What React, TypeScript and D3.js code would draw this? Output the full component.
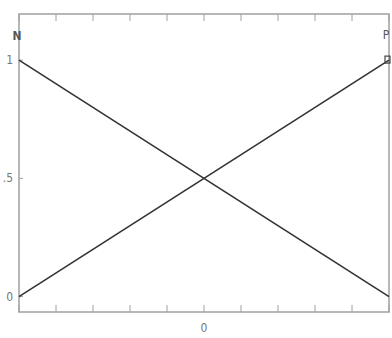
import React from "react";
import * as d3 from "d3";

const xDomain: [number, number] = [-1, 1];
const yDomain: [number, number] = [-0.065, 1.195];
const xTicks = [-1, -0.8, -0.6, -0.4, -0.2, 0, 0.2, 0.4, 0.6, 0.8, 1];
const xTickLabels = [{ v: 0, t: "0" }];
const yTickLabels = [
  { v: 1, t: "1" },
  { v: 0.5, t: ".5" },
  { v: 0, t: "0" },
];
const seriesN = [
  { x: -1, y: 1 },
  { x: 1, y: 0 },
];
const seriesP = [
  { x: -1, y: 0 },
  { x: 1, y: 1 },
];

const W = 392;
const H = 338;
const left = 19;
const right = 389;
const top = 14;
const bottom = 312;

export default function App() {
  const x = d3.scaleLinear().domain(xDomain).range([left, right]);
  const y = d3.scaleLinear().domain(yDomain).range([bottom, top]);
  const line = d3
    .line<{ x: number; y: number }>()
    .x((d) => x(d.x))
    .y((d) => y(d.y));
  const axisColor = "#a0a0a0";
  const textColor = "#777";
  const font = "'DejaVu Sans Condensed', 'DejaVu Sans', sans-serif";
  const pEnd = seriesP[seriesP.length - 1];
  const nStart = seriesN[0];
  return (
    <svg
      width={W}
      height={H}
      style={{ position: "absolute", left: 0, top: 0, background: "#fff" }}
    >
      <rect
        x={left}
        y={top}
        width={right - left}
        height={bottom - top}
        fill="none"
        stroke={axisColor}
        strokeWidth={1.5}
      />
      {xTicks.map((t, i) => (
        <g key={i}>
          <line x1={x(t)} x2={x(t)} y1={bottom} y2={bottom - 7} stroke={axisColor} strokeWidth={1} />
          <line x1={x(t)} x2={x(t)} y1={top} y2={top + 7} stroke={axisColor} strokeWidth={1} />
        </g>
      ))}
      {yTickLabels.map((t, i) => (
        <g key={i}>
          <line x1={left} x2={left + 4} y1={y(t.v)} y2={y(t.v)} stroke={axisColor} strokeWidth={1} />
          <text
            x={13}
            y={y(t.v)}
            textAnchor="end"
            dominantBaseline="central"
            fontFamily={font}
            fontSize={12}
            fill={textColor}
          >
            {t.t}
          </text>
        </g>
      ))}
      {xTickLabels.map((t, i) => (
        <text
          key={i}
          x={x(t.v)}
          y={328}
          textAnchor="middle"
          dominantBaseline="central"
          fontFamily={font}
          fontSize={12}
          fill={textColor}
        >
          {t.t}
        </text>
      ))}
      <path d={line(seriesN) ?? ""} fill="none" stroke="#333" strokeWidth={1.6} />
      <path d={line(seriesP) ?? ""} fill="none" stroke="#333" strokeWidth={1.6} />
      <text
        x={x(nStart.x) - 2}
        y={36}
        textAnchor="middle"
        dominantBaseline="central"
        fontFamily={font}
        fontSize={12}
        fontWeight="bold"
        fill="#555"
      >
        N
      </text>
      <text
        x={x(pEnd.x) - 3}
        y={35}
        textAnchor="middle"
        dominantBaseline="central"
        fontFamily={font}
        fontSize={12}
        fill="#555"
      >
        P
      </text>
      <rect
        x={x(pEnd.x) - 4}
        y={y(pEnd.y) - 4}
        width={5}
        height={7}
        fill="none"
        stroke="#444"
        strokeWidth={1.2}
      />
    </svg>
  );
}
